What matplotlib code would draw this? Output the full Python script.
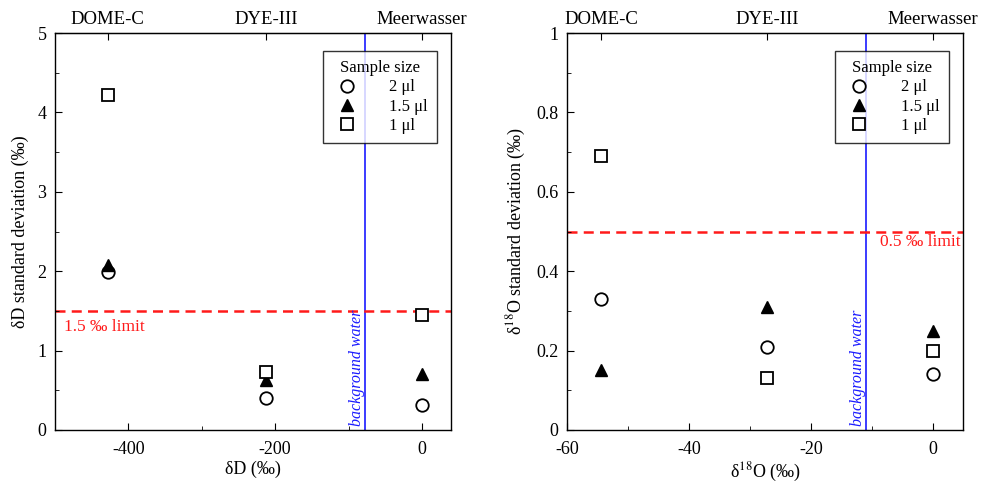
"""Standard deviation of dD and d18O for different sample sizes."""
import matplotlib
matplotlib.use("Agg")
import matplotlib.pyplot as plt
from matplotlib.ticker import MultipleLocator, FormatStrFormatter

plt.rcParams["font.family"] = ["Liberation Serif", "DejaVu Serif"]
plt.rcParams["mathtext.fontset"] = "stix"
plt.rcParams["axes.unicode_minus"] = False

samples = ["DOME-C", "DYE-III", "Meerwasser"]
sizes = ["2 μl", "1.5 μl", "1 μl"]

dD_pos = [-428, -212, 0]
dD_sd_2ul = [1.99, 0.40, 0.31]
dD_sd_15ul = [2.08, 0.63, 0.70]
dD_sd_1ul = [4.22, 0.73, 1.45]

d18O_pos = [-54.4, -27.2, 0]
d18O_sd_2ul = [0.33, 0.21, 0.14]
d18O_sd_15ul = [0.15, 0.31, 0.25]
d18O_sd_1ul = [0.69, 0.13, 0.20]

dD_limit = 1.5
d18O_limit = 0.5
dD_background = -78
d18O_background = -11


def panel(ax, pos, sd2, sd15, sd1, limit, bg, xlim, ylim, xmaj, ymaj, xlabel, ylabel, limtxt, lim_left):
    ax.axvline(bg, color="#1a1aff", lw=1.2, zorder=1)
    ax.axhline(limit, color="#ff1a1a", lw=1.8, ls=(0, (4, 2.5)), zorder=1)
    ms = 9
    ax.plot(pos, sd2, "o", mfc="white", mec="black", mew=1.3, ms=ms, ls="none", label=sizes[0], zorder=3)
    ax.plot(pos, sd15, "^", color="black", ms=ms, ls="none", label=sizes[1], zorder=3)
    ax.plot(pos, sd1, "s", mfc="white", mec="black", mew=1.3, ms=ms, ls="none", label=sizes[2], zorder=3)
    ax.set_xlim(*xlim)
    ax.set_ylim(*ylim)
    ax.xaxis.set_major_locator(MultipleLocator(xmaj))
    ax.xaxis.set_minor_locator(MultipleLocator(xmaj / 2))
    ax.yaxis.set_major_locator(MultipleLocator(ymaj))
    ax.yaxis.set_minor_locator(MultipleLocator(ymaj / 2))
    ax.yaxis.set_major_formatter(FormatStrFormatter("%g"))
    ax.xaxis.set_major_formatter(FormatStrFormatter("%g"))
    ax.tick_params(which="both", direction="in", labelsize=13, top=False, right=False)
    ax.tick_params(which="major", length=5)
    ax.tick_params(which="minor", length=3)
    ax.tick_params(axis="x", pad=8)
    ax.tick_params(axis="y", pad=6)
    ax.set_xlabel(xlabel, fontsize=13, labelpad=2)
    ax.set_ylabel(ylabel, fontsize=13, labelpad=6)
    ax.text(bg, ylim[0] + 0.01 * (ylim[1] - ylim[0]), "background water", rotation=90,
            color="#1a1aff", style="italic", fontsize=11.5, ha="right", va="bottom")
    if lim_left:
        ax.text(xlim[0] + 0.022 * (xlim[1] - xlim[0]), limit - 0.02 * (ylim[1] - ylim[0]), limtxt,
                color="#ff1a1a", fontsize=12.5, ha="left", va="top")
    else:
        ax.text(xlim[1] - 0.008 * (xlim[1] - xlim[0]), limit - 0.005 * (ylim[1] - ylim[0]), limtxt,
                color="#ff1a1a", fontsize=12.5, ha="right", va="top")
    top = ax.secondary_xaxis("top")
    top.set_xticks(pos, samples)
    top.tick_params(direction="in", length=5, labelsize=13.5, pad=4)
    for side in ax.spines.values():
        side.set_linewidth(1.0)
    leg = ax.legend(title="Sample size", loc="upper right", bbox_to_anchor=(0.963, 0.955),
                    fontsize=12, title_fontsize=12, frameon=True, fancybox=False,
                    edgecolor="black", markerfirst=True, handletextpad=1.6, borderpad=0.55,
                    labelspacing=0.2, handlelength=1.8, borderaxespad=0.0)
    leg.get_frame().set_linewidth(1.0)


fig = plt.figure(figsize=(9.81, 4.84), dpi=100)
ax1 = fig.add_axes([0.056, 0.1116, 0.404, 0.820])
ax2 = fig.add_axes([0.578, 0.1116, 0.404, 0.820])

panel(ax1, dD_pos, dD_sd_2ul, dD_sd_15ul, dD_sd_1ul, dD_limit, dD_background,
      (-500, 40), (0, 5), 200, 1, "δD (‰)", "δD standard deviation (‰)", "1.5 ‰ limit", True)
panel(ax2, d18O_pos, d18O_sd_2ul, d18O_sd_15ul, d18O_sd_1ul, d18O_limit, d18O_background,
      (-60, 5), (0, 1), 20, 0.2, r"δ$^{18}$O (‰)", r"δ$^{18}$O standard deviation (‰)", "0.5 ‰ limit", False)

fig.savefig("out.png", dpi=100)
